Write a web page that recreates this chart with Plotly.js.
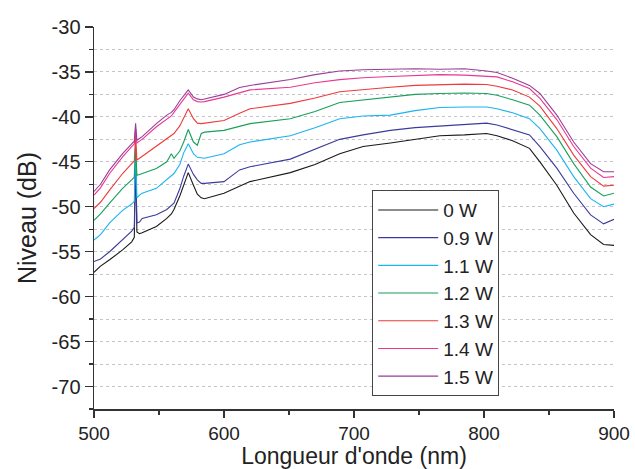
<!DOCTYPE html>
<html>
<head>
<meta charset="utf-8">
<script src="https://cdn.plot.ly/plotly-3.0.1.min.js"></script>
<style>html,body{margin:0;padding:0;background:#fff;}#chart{width:635px;height:469px;}</style>
</head>
<body>
<div id="chart"></div>
<script>
const wavelength = [500, 505, 512, 522, 529, 531, 532, 533, 535, 537, 548, 556, 559.5, 561.5, 566, 569, 572.5, 576.5, 579.5, 582.5, 585, 600, 612, 620, 651, 670, 689, 707, 728, 747, 766, 785, 802, 810, 822, 835, 843, 856, 869, 882, 892, 900];

const level_0W = [-57.3, -56.6, -55.9, -54.8, -53.9, -53.4, -44.5, -52.8, -53.0, -52.9, -52.2, -51.3, -50.8, -50.3, -48.8, -47.5, -46.2, -47.6, -48.6, -49.0, -49.1, -48.5, -47.7, -47.2, -46.2, -45.3, -44.1, -43.3, -42.9, -42.5, -42.1, -42.0, -41.85, -42.1, -42.65, -43.5, -45.0, -47.6, -50.7, -53.1, -54.2, -54.3];
const level_09W = [-56.1, -55.8, -55.0, -53.7, -52.7, -52.3, -44.0, -51.8, -51.7, -51.3, -50.9, -50.3, -49.9, -49.6, -48.0, -46.6, -45.25, -46.4, -47.0, -47.4, -47.4, -47.2, -45.9, -45.55, -44.7, -43.6, -42.5, -42.0, -41.5, -41.2, -41.0, -40.85, -40.7, -40.9, -41.4, -42.0, -43.3, -45.7, -48.5, -50.9, -51.9, -51.4];
const level_11W = [-53.7, -53.1, -51.8, -50.4, -49.7, -49.4, -43.5, -49.0, -48.7, -48.5, -47.95, -47.0, -46.6, -46.3, -45.3, -44.0, -43.0, -44.1, -44.5, -44.6, -44.6, -44.1, -43.1, -42.8, -42.1, -41.2, -40.2, -39.9, -39.8, -39.3, -38.95, -38.9, -38.9, -39.1, -39.55, -40.2, -41.3, -43.7, -46.65, -49.1, -50.0, -49.7];
const level_12W = [-51.5, -50.8, -49.6, -47.95, -47.0, -46.7, -43.3, -46.5, -46.4, -46.3, -45.75, -45.0, -44.1, -44.6, -43.8, -42.8, -41.4, -42.8, -43.15, -41.85, -41.7, -41.5, -41.0, -40.75, -40.2, -39.4, -38.4, -38.1, -37.8, -37.5, -37.4, -37.35, -37.4, -37.6, -38.1, -38.7, -39.8, -42.2, -45.2, -47.8, -48.8, -48.5];
const level_13W = [-50.2, -49.5, -48.15, -46.3, -45.2, -44.9, -42.0, -44.8, -44.6, -44.4, -43.3, -42.5, -42.1, -41.85, -41.0, -40.1, -39.1, -40.2, -40.7, -40.75, -40.7, -40.4, -39.6, -39.1, -38.5, -37.9, -37.2, -36.95, -36.7, -36.5, -36.4, -36.35, -36.4, -36.6, -37.0, -37.8, -38.8, -41.3, -44.25, -46.65, -47.7, -47.6];
const level_14W = [-48.7, -47.9, -46.3, -44.45, -43.3, -43.0, -41.3, -42.9, -42.7, -42.5, -41.1, -40.2, -39.9, -39.5, -38.6, -37.95, -37.35, -38.1, -38.3, -38.35, -38.3, -37.8, -37.3, -37.0, -36.7, -36.2, -35.85, -35.65, -35.5, -35.4, -35.3, -35.35, -35.44, -35.55, -36.1, -36.85, -37.95, -40.3, -43.3, -45.7, -46.75, -46.65];
const level_15W = [-48.3, -47.5, -45.9, -44.1, -43.0, -42.7, -40.7, -42.6, -42.4, -42.2, -40.75, -39.8, -39.5, -39.2, -38.2, -37.6, -37.0, -37.8, -38.0, -38.1, -38.0, -37.5, -36.73, -36.5, -35.85, -35.3, -34.9, -34.75, -34.7, -34.65, -34.7, -34.65, -34.9, -35.07, -35.7, -36.5, -37.4, -39.8, -42.8, -45.2, -46.1, -46.1];

const seriesNames = ['0 W', '0.9 W', '1.1 W', '1.2 W', '1.3 W', '1.4 W', '1.5 W'];
const seriesValues = [level_0W, level_09W, level_11W, level_12W, level_13W, level_14W, level_15W];
const seriesColors = ['#1a1a1a', '#3b3b9e', '#1ab4ee', '#17a05a', '#ee3a3a', '#e8388f', '#9a3d9a'];

const yTickValues = [-70, -65, -60, -55, -50, -45, -40, -35, -30];
const yTickText = ['-70', '-65', '-60', '-55', '-50', '-45', '-40', '-35', '-30'];
const xTickValues = [500, 600, 700, 800, 900];
const xTickText = ['500', '600', '700', '800', '900'];

const traces = seriesNames.map((n, i) => ({
  x: wavelength, y: seriesValues[i], name: n, type: 'scatter', mode: 'lines',
  line: {color: seriesColors[i], width: 1.1}
}));

const fontFam = '"Liberation Sans", Arial, Helvetica, sans-serif';
const layout = {
  width: 635, height: 469,
  margin: {l: 94, r: 21, t: 27, b: 60},
  paper_bgcolor: '#fff', plot_bgcolor: '#fff',
  font: {family: fontFam, color: '#222', size: 20},
  showlegend: true,
  legend: {
    x: 0.535, y: 0.573, xanchor: 'left', yanchor: 'top',
    bgcolor: '#fff', bordercolor: '#444', borderwidth: 1,
    font: {family: fontFam, size: 19, color: '#222'},
    itemwidth: 60,
    tracegroupgap: 0
  },
  xaxis: {
    range: [500, 900], tickmode: 'array', tickvals: xTickValues, ticktext: xTickText,
    showline: true, linecolor: '#333', linewidth: 1.5, mirror: false,
    ticks: 'outside', ticklen: 7, tickwidth: 1.3, tickcolor: '#333',
    showgrid: false, zeroline: false,
    minor: {dtick: 50, tick0: 500, ticks: 'outside', ticklen: 4, tickwidth: 1.3, tickcolor: '#333', showgrid: false},
    tickfont: {size: 19},
    title: {text: 'Longueur d\'onde (nm)', font: {size: 23}, standoff: 9}
  },
  yaxis: {
    range: [-72.5, -30], tickmode: 'array', tickvals: yTickValues, ticktext: yTickText,
    showline: true, linecolor: '#333', linewidth: 1.5, mirror: false,
    ticks: 'outside', ticklen: 8, tickwidth: 1.3, tickcolor: '#333',
    showgrid: true, gridcolor: '#c4c4cc', gridwidth: 1, griddash: 'dot',
    zeroline: false,
    minor: {dtick: 2.5, tick0: -30, ticks: 'outside', ticklen: 4, tickwidth: 1.3, tickcolor: '#333', showgrid: true, gridcolor: '#c4c4cc', gridwidth: 1, griddash: 'dot'},
    tickfont: {size: 20},
    title: {text: 'Niveau (dB)', font: {size: 25}, standoff: 8}
  }
};

Plotly.newPlot('chart', traces, layout, {displayModeBar: false, staticPlot: true});
</script>
</body>
</html>
